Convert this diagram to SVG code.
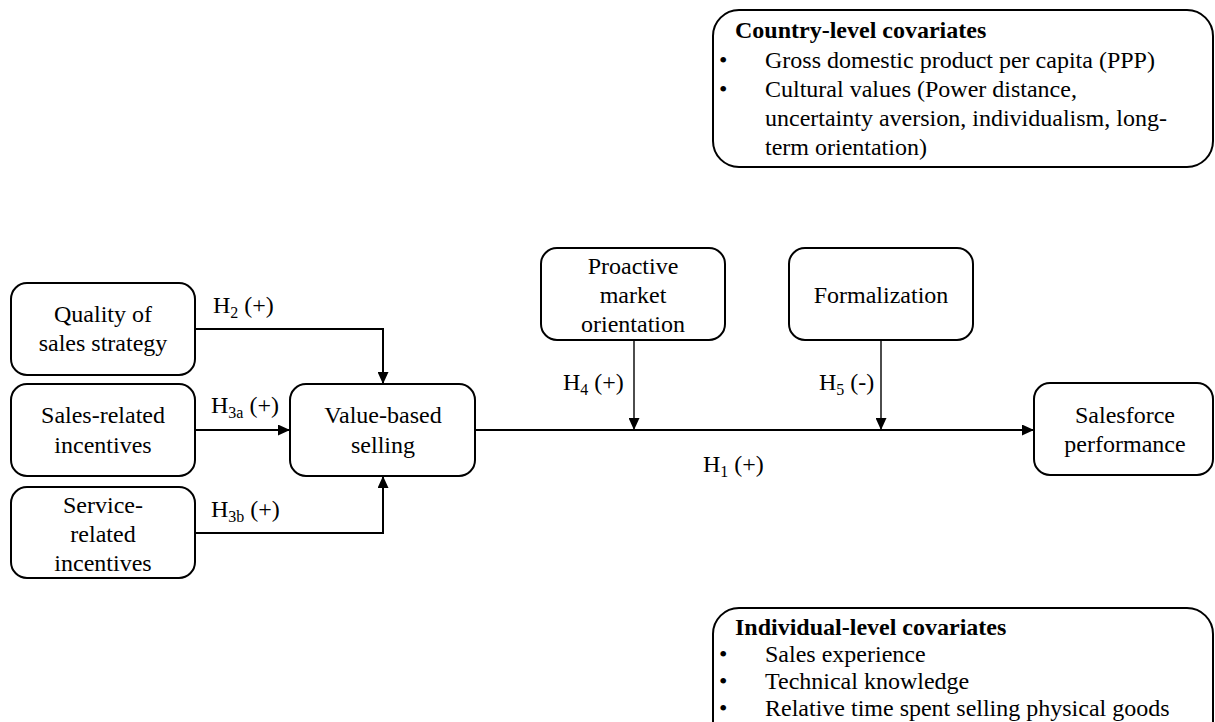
<svg xmlns="http://www.w3.org/2000/svg" width="1215" height="722" viewBox="0 0 1215 722">
  <style>
    .box { fill: #ffffff; stroke: #000000; stroke-width: 2; }
    text { font-family: 'Liberation Serif', 'Times New Roman', serif; font-size: 24px; fill: #000000; }
    .mid { text-anchor: middle; }
    .bold { font-weight: bold; }
    .sub { font-size: 16px; }
    .link { fill: none; stroke: #000000; stroke-width: 2; }
    .thin { fill: none; stroke: #000000; stroke-width: 1.4; }
  </style>
  <defs>
    <marker id="arrow" markerUnits="userSpaceOnUse" markerWidth="12" markerHeight="11" refX="12" refY="5.5" orient="auto">
      <path d="M0,0 L12,5.5 L0,11 Z" fill="#000000"/>
    </marker>
  </defs>

  <rect width="1215" height="722" fill="#ffffff"/>

  <!-- covariate panels -->
  <g id="country-covariates">
    <rect class="box" x="713" y="10" width="500" height="157" rx="26" ry="26"/>
    <text class="bold" x="735" y="38">Country-level covariates</text>
    <text x="719" y="68">•</text>
    <text x="765" y="68">Gross domestic product per capita (PPP)</text>
    <text x="719" y="97">•</text>
    <text x="765" y="97">Cultural values (Power distance,</text>
    <text x="765" y="126">uncertainty aversion, individualism, long-</text>
    <text x="765" y="155">term orientation)</text>
  </g>

  <g id="individual-covariates">
    <rect class="box" x="713" y="608" width="500" height="140" rx="26" ry="26"/>
    <text class="bold" x="735" y="635">Individual-level covariates</text>
    <text x="719" y="662">•</text>
    <text x="765" y="662">Sales experience</text>
    <text x="719" y="689">•</text>
    <text x="765" y="689">Technical knowledge</text>
    <text x="719" y="716">•</text>
    <text x="765" y="716">Relative time spent selling physical goods</text>
  </g>

  <!-- connectors -->
  <g id="connectors">
    <path class="link" d="M195,329 H383 V384" marker-end="url(#arrow)"/>
    <path class="link" d="M195,430 H290" marker-end="url(#arrow)"/>
    <path class="link" d="M195,533 H383 V476" marker-end="url(#arrow)"/>
    <path class="link" d="M475,430 H1034" marker-end="url(#arrow)"/>
    <path class="thin" d="M634,340 V430" marker-end="url(#arrow)"/>
    <path class="thin" d="M881,340 V430" marker-end="url(#arrow)"/>

    <text x="213" y="313">H<tspan class="sub" dy="5">2</tspan><tspan dy="-5"> (+)</tspan></text>
    <text x="211" y="413">H<tspan class="sub" dy="5">3a</tspan><tspan dy="-5"> (+)</tspan></text>
    <text x="211" y="517">H<tspan class="sub" dy="5">3b</tspan><tspan dy="-5"> (+)</tspan></text>
    <text x="563" y="390">H<tspan class="sub" dy="5">4</tspan><tspan dy="-5"> (+)</tspan></text>
    <text x="819" y="390">H<tspan class="sub" dy="5">5</tspan><tspan dy="-5"> (-)</tspan></text>
    <text x="703" y="472">H<tspan class="sub" dy="5">1</tspan><tspan dy="-5"> (+)</tspan></text>
  </g>

  <!-- antecedents -->
  <g id="quality-of-sales-strategy">
    <rect class="box" x="11" y="283" width="184" height="92" rx="16" ry="16"/>
    <text class="mid" x="103" y="322">Quality of</text>
    <text class="mid" x="103" y="351">sales strategy</text>
  </g>
  <g id="sales-related-incentives">
    <rect class="box" x="11" y="384" width="184" height="92" rx="16" ry="16"/>
    <text class="mid" x="103" y="423">Sales-related</text>
    <text class="mid" x="103" y="453">incentives</text>
  </g>
  <g id="service-related-incentives">
    <rect class="box" x="11" y="487" width="184" height="91" rx="16" ry="16"/>
    <text class="mid" x="103" y="513">Service-</text>
    <text class="mid" x="103" y="542">related</text>
    <text class="mid" x="103" y="571">incentives</text>
  </g>

  <!-- mediator and outcome -->
  <g id="value-based-selling">
    <rect class="box" x="290" y="384" width="185" height="92" rx="16" ry="16"/>
    <text class="mid" x="383" y="423">Value-based</text>
    <text class="mid" x="383" y="453">selling</text>
  </g>
  <g id="salesforce-performance">
    <rect class="box" x="1034" y="383" width="179" height="92" rx="16" ry="16"/>
    <text class="mid" x="1125" y="423">Salesforce</text>
    <text class="mid" x="1125" y="452">performance</text>
  </g>

  <!-- moderators -->
  <g id="proactive-market-orientation">
    <rect class="box" x="541" y="248" width="184" height="92" rx="16" ry="16"/>
    <text class="mid" x="633" y="274">Proactive</text>
    <text class="mid" x="633" y="303">market</text>
    <text class="mid" x="633" y="332">orientation</text>
  </g>
  <g id="formalization">
    <rect class="box" x="789" y="248" width="184" height="92" rx="16" ry="16"/>
    <text class="mid" x="881" y="303">Formalization</text>
  </g>
</svg>
